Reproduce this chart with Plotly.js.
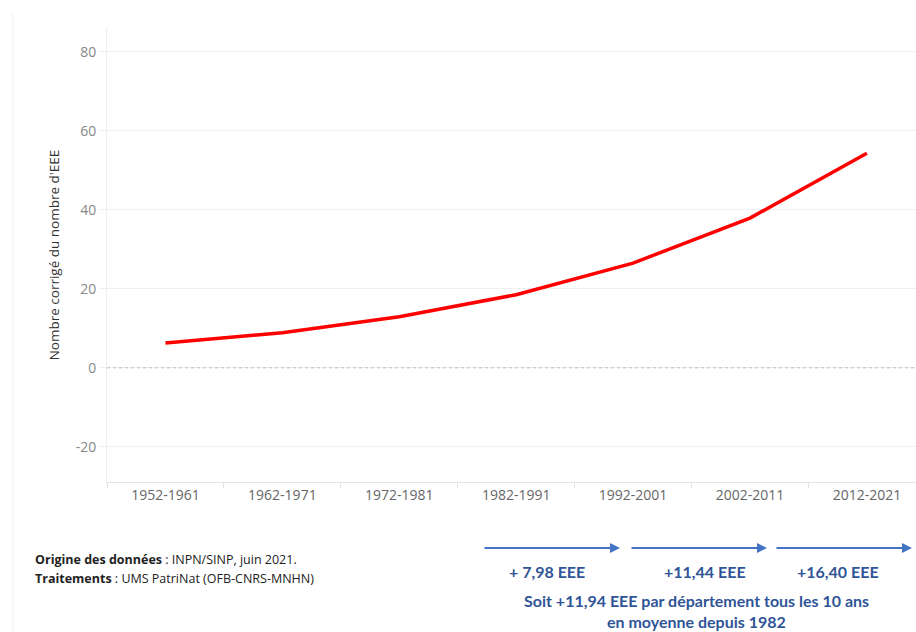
<!DOCTYPE html>
<html><head><meta charset="utf-8">
<script src="https://cdn.plot.ly/plotly-3.0.1.min.js"></script>
<style>html,body{margin:0;padding:0;background:#fff;}#chart{width:916px;height:632px;}</style>
</head><body><div id="chart"></div>
<script>
const periods = ["1952-1961","1962-1971","1972-1981","1982-1991","1992-2001","2002-2011","2012-2021"];
const values = [6.3, 8.9, 12.9, 18.5, 26.5, 37.9, 54.3];
const increments = ["+ 7,98 EEE", "+11,44 EEE", "+16,40 EEE"];
const yTicks = [-20, 0, 20, 40, 60, 80];
const yTickText = ["-20", "0", "20", "40", "60", "80"];

const W = 916, H = 632, L = 107, T = 28, B = 150;
const pw = W - L, ph = H - T - B;
const px = v => (v - L) / pw;           // pixel -> paper x
const py = v => (H - B - v) / ph;       // pixel -> paper y

const blue = "#4472C4";
const dblue = "#2F5597";
const annotations = [];
// source notes
annotations.push({xref:"paper", yref:"paper", x:px(33), y:py(559), xanchor:"left", yanchor:"middle", showarrow:false,
  text:"<b>Origine des données</b> : INPN/SINP, juin 2021.", font:{family:"Open Sans, sans-serif", size:12.5, color:"#222"}});
annotations.push({xref:"paper", yref:"paper", x:px(33), y:py(578), xanchor:"left", yanchor:"middle", showarrow:false,
  text:"<b>Traitements</b> : UMS PatriNat (OFB-CNRS-MNHN)", font:{family:"Open Sans, sans-serif", size:12.5, color:"#222"}});
// arrows
const arrows = [[483, 620], [630, 767], [775, 912]];
const labelX = [547, 705, 838];
arrows.forEach((a, i) => {
  annotations.push({xref:"paper", yref:"paper", x:px(a[1]), y:py(548), ax:a[0]-a[1], ay:0, axref:"pixel", ayref:"pixel",
    showarrow:true, arrowhead:2, arrowsize:1, arrowwidth:2, arrowcolor:blue, text:""});
  annotations.push({xref:"paper", yref:"paper", x:px(labelX[i]), y:py(571), xanchor:"center", yanchor:"middle", showarrow:false,
    text:"<b>"+increments[i]+"</b>", font:{family:"Lato, sans-serif", size:16, color:dblue}});
});
annotations.push({xref:"paper", yref:"paper", x:px(696), y:py(600), xanchor:"center", yanchor:"middle", showarrow:false,
  text:"<b>Soit +11,94 EEE par département tous les 10 ans</b>", font:{family:"Lato, sans-serif", size:16, color:dblue}});
annotations.push({xref:"paper", yref:"paper", x:px(696), y:py(621), xanchor:"center", yanchor:"middle", showarrow:false,
  text:"<b>en moyenne depuis 1982</b>", font:{family:"Lato, sans-serif", size:16, color:dblue}});

const data = [{
  type:"scatter", mode:"lines", x:periods, y:values,
  line:{color:"#FF0000", width:3.5}, hoverinfo:"x+y"
}];

const layout = {
  width:W, height:H,
  margin:{l:L, r:0, t:T, b:B},
  paper_bgcolor:"#fff", plot_bgcolor:"#fff",
  showlegend:false,
  font:{family:"Open Sans, sans-serif"},
  xaxis:{type:"category", range:[-0.5, 6.42], showgrid:false, zeroline:false,
    showline:true, linecolor:"#e4e4e4", linewidth:1,
    ticks:"outside", tickson:"boundaries", ticklen:5, tickcolor:"#e4e4e4",
    tickfont:{family:"Open Sans, sans-serif", size:14, color:"#666"}},
  yaxis:{range:[-28.9, 86], tickvals:yTicks, ticktext:yTickText, showgrid:true, gridcolor:"#f0f0f0", zeroline:false,
    showline:true, linecolor:"#eeeeee", ticks:"outside", ticklen:7, tickcolor:"#f0f0f0",
    tickfont:{family:"Open Sans, sans-serif", size:14, color:"#888"},
    title:{text:"Nombre corrigé du nombre d'EEE", standoff:12, font:{family:"Open Sans, sans-serif", size:13.5, color:"#333"}}},
  shapes:[
    {type:"line", xref:"paper", yref:"y", x0:0, x1:1, y0:0, y1:0, line:{color:"#bbbbbb", width:1, dash:"dot"}},
    {type:"line", xref:"paper", yref:"paper", x0:px(13), x1:px(13), y0:py(13), y1:py(632), line:{color:"#f0f0f0", width:1}}
  ],
  annotations:annotations
};

Plotly.newPlot("chart", data, layout, {displayModeBar:false, staticPlot:true});
</script></body></html>
